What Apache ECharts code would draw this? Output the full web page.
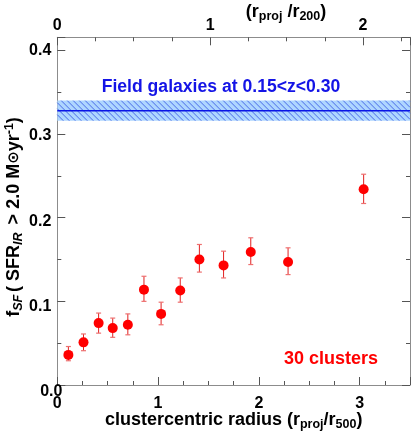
<!DOCTYPE html>
<html>
<head>
<meta charset="utf-8">
<script src="https://cdn.jsdelivr.net/npm/echarts@6/dist/echarts.min.js"></script>
<style>html,body{margin:0;padding:0;background:#fff;}#c{width:413px;height:436px;}</style>
</head>
<body>
<div id="c"></div>
<script>
// radius r_proj/r500
const radius = [0.11, 0.26, 0.41, 0.55, 0.70, 0.86, 1.03, 1.22, 1.41, 1.65, 1.92, 2.29, 3.04];
// star-forming fraction
const fSF = [0.036, 0.051, 0.074, 0.068, 0.072, 0.114, 0.085, 0.113, 0.150, 0.143, 0.159, 0.147, 0.234];
const errLow = [0.029, 0.041, 0.062, 0.057, 0.060, 0.100, 0.072, 0.099, 0.135, 0.128, 0.144, 0.132, 0.217];
const errHigh = [0.046, 0.061, 0.086, 0.080, 0.085, 0.130, 0.099, 0.128, 0.168, 0.160, 0.176, 0.164, 0.252];
// field galaxies band
const fieldLevel = 0.328;
const fieldLow = 0.316;
const fieldHigh = 0.340;
const xRange = [0, 3.5];
const r200Ratio = 1.517; // r200 / r500
const yTickLabels = ['0.0', '0.1', '0.2', '0.3', '0.4'];

const font = 'Liberation Sans, Arial, Helvetica, sans-serif';
const chart = echarts.init(document.getElementById('c'), null, {renderer: 'canvas'});

const pts = radius.map((r, i) => [r, fSF[i]]);
const errs = radius.map((r, i) => [r, errLow[i], errHigh[i]]);

const axisLineStyle = {color: '#8c8c8c', width: 1};
const tickStyle = {color: '#555', width: 1};
const gridBox = {left: 57.3, right: 3, top: 37.3, bottom: 44.3, containLabel: false};

function intFmt(v) {
  return Math.abs(v - Math.round(v)) < 1e-6 ? String(Math.round(v)) : '';
}
const xLabelStyle = {
  color: '#000', fontWeight: 'bold', fontSize: 16, fontFamily: font, margin: 4,
  align: 'center', alignMinLabel: 'center', alignMaxLabel: 'center', hideOverlap: false,
  showMinLabel: true, formatter: intFmt
};
function xAxisCommon(extra) {
  return Object.assign({
    type: 'value',
    interval: 1,
    axisLine: {show: true, lineStyle: axisLineStyle, onZero: false},
    axisTick: {show: true, inside: true, length: 8, lineStyle: tickStyle},
    minorTick: {show: true, splitNumber: 4, length: 4, lineStyle: tickStyle},
    splitLine: {show: false},
    axisLabel: Object.assign({}, xLabelStyle)
  }, extra);
}
function yAxisCommon(extra) {
  return Object.assign({
    type: 'value',
    min: 0, max: 0.4157, interval: 0.1,
    axisLine: {show: true, lineStyle: axisLineStyle, onZero: false},
    axisTick: {show: true, inside: true, length: 8, lineStyle: tickStyle},
    minorTick: {show: true, splitNumber: 2, length: 4, lineStyle: tickStyle},
    splitLine: {show: false}
  }, extra);
}

const option = {
  backgroundColor: '#fff',
  animation: false,
  grid: [Object.assign({}, gridBox), Object.assign({}, gridBox), Object.assign({}, gridBox)],
  xAxis: [
    xAxisCommon({
      gridIndex: 0, position: 'bottom', min: xRange[0], max: xRange[1],
      axisLabel: {show: false},
      name: '{m|clustercentric radius (r}{s|proj}{m|/r}{s|500}{m|)}',
      nameLocation: 'middle', nameGap: 24,
      nameTextStyle: {
        rich: {
          m: {fontSize: 18, fontWeight: 'bold', fontFamily: font, color: '#000', lineHeight: 22},
          s: {fontSize: 12.5, fontWeight: 'bold', fontFamily: font, color: '#000', lineHeight: 12, verticalAlign: 'bottom'}
        }
      }
    }),
    xAxisCommon({
      gridIndex: 0, position: 'top', min: xRange[0] / r200Ratio, max: xRange[1] / r200Ratio
    }),
    {type: 'value', gridIndex: 1, min: xRange[0], max: xRange[1], show: false},
    xAxisCommon({
      gridIndex: 2, position: 'bottom', min: xRange[0], max: xRange[1],
      axisLine: {show: false}, axisTick: {show: false}, minorTick: {show: false}
    })
  ],
  yAxis: [
    yAxisCommon({gridIndex: 0, position: 'left', axisLabel: {show: false}}),
    yAxisCommon({gridIndex: 0, position: 'right', axisLabel: {show: false}}),
    yAxisCommon({
      gridIndex: 1, position: 'left',
      axisLine: {show: false}, axisTick: {show: false}, minorTick: {show: false},
      axisLabel: {
        color: '#000', fontWeight: 'bold', fontSize: 16, fontFamily: font, margin: 6,
        verticalAlign: 'middle', alignMinLabel: 'center', alignMaxLabel: 'center', hideOverlap: false,
        showMinLabel: true,
        formatter: v => {
          const i = Math.round(v * 10);
          return (Math.abs(v * 10 - i) < 1e-6 && yTickLabels[i]) ? yTickLabels[i] : '';
        }
      }
    }),
    {type: 'value', gridIndex: 2, min: 0, max: 0.4157, show: false}
  ],
  graphic: [
    {
      type: 'text', x: 14, y: 217, rotation: Math.PI / 2, z: 100,
      style: {
        text: '{m|f}{si|SF}{m|( SFR}{si|IR}{m| > 2.0 M}{o|⊙}{m|yr}{sp|-1}{m|)}',
        align: 'center', verticalAlign: 'middle',
        rich: {
          m: {fontSize: 18, fontWeight: 'bold', fontFamily: font, fill: '#000', lineHeight: 22},
          o: {fontSize: 15, fontWeight: 'bold', fontFamily: 'DejaVu Sans', fill: '#000', lineHeight: 22},
          si: {fontSize: 12.5, fontWeight: 'bold', fontStyle: 'italic', fontFamily: font, fill: '#000', lineHeight: 12, verticalAlign: 'bottom', padding: [0, 3, 0, 0]},
          sp: {fontSize: 12.5, fontWeight: 'bold', fontFamily: font, fill: '#000', lineHeight: 12, verticalAlign: 'top'}
        }
      }
    },
    {
      type: 'text', x: 286, y: 12, z: 100,
      style: {
        text: '{m|(r}{s|proj}{m| /r}{s|200}{m|)}',
        align: 'center', verticalAlign: 'middle',
        rich: {
          m: {fontSize: 18, fontWeight: 'bold', fontFamily: font, fill: '#000', lineHeight: 22},
          s: {fontSize: 12.5, fontWeight: 'bold', fontFamily: font, fill: '#000', lineHeight: 12, verticalAlign: 'bottom'}
        }
      }
    },
    {
      type: 'text', x: 221, y: 87, z: 100,
      style: {
        text: 'Field galaxies at 0.15<z<0.30',
        align: 'center', verticalAlign: 'middle',
        fontSize: 17.6, fontWeight: 'bold', fontFamily: font, fill: '#1414e6'
      }
    },
    {
      type: 'text', x: 331, y: 359, z: 100,
      style: {
        text: '30 clusters',
        align: 'center', verticalAlign: 'middle',
        fontSize: 18, fontWeight: 'bold', fontFamily: font, fill: '#ff0000'
      }
    }
  ],
  series: [
    {
      type: 'custom', name: 'field', xAxisIndex: 0, yAxisIndex: 0, z: 1,
      data: [[xRange[0], xRange[1], fieldLow, fieldHigh, fieldLevel]],
      renderItem: function (params, api) {
        const pTL = api.coord([api.value(0), api.value(3)]);
        const pBR = api.coord([api.value(1), api.value(2)]);
        const pL = api.coord([api.value(0), api.value(4)]);
        const x0 = pTL[0], y0 = pTL[1], x1 = pBR[0], y1 = pBR[1];
        const h = y1 - y0;
        const children = [{
          type: 'rect', shape: {x: x0, y: y0, width: x1 - x0, height: h},
          style: {fill: '#aed6ff'}
        }];
        const step = 6;
        for (let s = x0 - h; s < x1; s += step) {
          let ax = s, ay = y0, bx = s + h, by = y1;
          if (ax < x0) { ay = y0 + (x0 - ax); ax = x0; }
          if (bx > x1) { by = y1 - (bx - x1); bx = x1; }
          if (bx <= ax) continue;
          children.push({type: 'line', shape: {x1: ax, y1: ay, x2: bx, y2: by},
            style: {stroke: '#4a6ae8', lineWidth: 1}});
        }
        children.push({type: 'line', shape: {x1: x0, y1: pL[1], x2: x1, y2: pL[1]},
          style: {stroke: '#0a14e6', lineWidth: 1.5}});
        return {type: 'group', children: children};
      }
    },
    {
      type: 'custom', name: 'errors', xAxisIndex: 0, yAxisIndex: 0, z: 2,
      data: errs,
      renderItem: function (params, api) {
        const lo = api.coord([api.value(0), api.value(1)]);
        const hi = api.coord([api.value(0), api.value(2)]);
        const cw = 2.5;
        return {type: 'group', children: [
          {type: 'line', shape: {x1: lo[0], y1: lo[1], x2: hi[0], y2: hi[1]}, style: {stroke: '#e02020', lineWidth: 1}},
          {type: 'line', shape: {x1: lo[0] - cw, y1: lo[1], x2: lo[0] + cw, y2: lo[1]}, style: {stroke: '#ee7070', lineWidth: 1.2}},
          {type: 'line', shape: {x1: hi[0] - cw, y1: hi[1], x2: hi[0] + cw, y2: hi[1]}, style: {stroke: '#ee7070', lineWidth: 1.2}}
        ]};
      }
    },
    {
      type: 'scatter', name: 'fSF', xAxisIndex: 0, yAxisIndex: 0, z: 3,
      data: pts, symbol: 'circle', symbolSize: 10,
      itemStyle: {color: '#ff0000', opacity: 1}
    }
  ]
};
chart.setOption(option);
</script>
</body>
</html>
